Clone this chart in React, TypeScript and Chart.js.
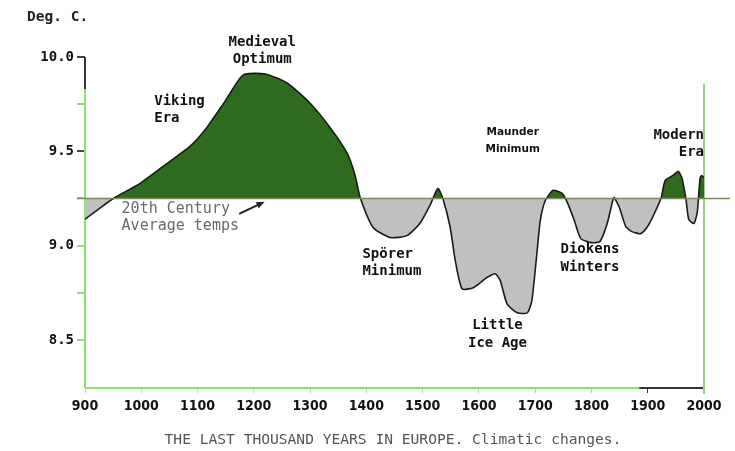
import React, { useEffect, useRef } from "react";
import { Chart, registerables } from "chart.js";

Chart.register(...registerables);

const years = [
  900, 927, 953, 998, 1051, 1087, 1117, 1149, 1181, 1220, 1259, 1300, 1335, 1366, 1380, 1389,
  1412, 1442, 1472, 1495, 1513, 1527, 1536, 1549, 1558, 1570, 1590, 1614, 1629, 1638, 1650,
  1668, 1686, 1694, 1703, 1709, 1718, 1732, 1748, 1757, 1769, 1781, 1799, 1815, 1828, 1837,
  1840, 1849, 1861, 1872, 1888, 1902, 1915, 1924, 1931, 1945, 1954, 1961, 1968, 1973, 1982,
  1988, 1993, 1996, 2000,
];
const temps = [
  9.14, 9.2, 9.255, 9.33, 9.447, 9.527, 9.628, 9.766, 9.904, 9.91, 9.862, 9.755, 9.628, 9.489, 9.372, 9.255,
  9.096, 9.043, 9.053, 9.117, 9.213, 9.303, 9.25, 9.096, 8.92, 8.771, 8.777, 8.83, 8.851, 8.814, 8.691,
  8.644, 8.644, 8.707, 8.957, 9.133, 9.239, 9.293, 9.277, 9.229, 9.138, 9.037, 9.016, 9.021, 9.117, 9.229,
  9.255, 9.207, 9.101, 9.074, 9.064, 9.112, 9.191, 9.255, 9.346, 9.372, 9.394, 9.356, 9.245, 9.138, 9.117,
  9.176, 9.356, 9.372, 9.36,
];
const baselineTemp = 9.25;
const yTickValues = [8.5, 8.75, 9.0, 9.25, 9.5, 9.75, 10.0];
const xTickValues = [900, 1000, 1100, 1200, 1300, 1400, 1500, 1600, 1700, 1800, 1900, 2000];

const yAxisTitle = "Deg. C.";
const chartTitle = "THE LAST THOUSAND YEARS IN EUROPE. Climatic changes.";

type Note = { lines: string[]; x: number; y: number; align: CanvasTextAlign; font: string; color: string };
const BOLD = "bold 14px 'DejaVu Sans Mono'";
const notes: Note[] = [
  { lines: ["Medieval", "Optimum"], x: 1215, y: 10.08, align: "center", font: BOLD, color: "#111" },
  { lines: ["Viking", "Era"], x: 1023, y: 9.765, align: "left", font: BOLD, color: "#111" },
  { lines: ["Spörer", "Minimum"], x: 1393, y: 8.955, align: "left", font: BOLD, color: "#111" },
  { lines: ["Little", "Ice Age"], x: 1633, y: 8.575, align: "center", font: BOLD, color: "#111" },
  { lines: ["Maunder", "Minimum"], x: 1660, y: 9.6, align: "center", font: "bold 10.5px 'DejaVu Sans'", color: "#111" },
  { lines: ["Diokens", "Winters"], x: 1745, y: 8.98, align: "left", font: BOLD, color: "#111" },
  { lines: ["Modern", "Era"], x: 2000, y: 9.585, align: "right", font: BOLD, color: "#111" },
  { lines: ["20th Century", "Average temps"], x: 965, y: 9.195, align: "left", font: "15px 'DejaVu Sans Mono'", color: "#6a6a6a" },
];

const AXIS_GREEN = "#8fe070";

const decorPlugin = {
  id: "decor",
  beforeDatasetsDraw(chart: any) {
    const { ctx, chartArea, scales } = chart;
    const xs = scales.x;
    const ys = scales.y;
    ctx.save();
    ctx.lineWidth = 2;
    const y975 = ys.getPixelForValue(9.83);
    ctx.strokeStyle = "#333";
    ctx.beginPath();
    ctx.moveTo(chartArea.left, chartArea.top);
    ctx.lineTo(chartArea.left, y975);
    ctx.stroke();
    ctx.strokeStyle = AXIS_GREEN;
    ctx.beginPath();
    ctx.moveTo(chartArea.left, y975);
    ctx.lineTo(chartArea.left, chartArea.bottom);
    ctx.stroke();
    const x1880 = xs.getPixelForValue(1885);
    ctx.strokeStyle = AXIS_GREEN;
    ctx.beginPath();
    ctx.moveTo(chartArea.left, chartArea.bottom);
    ctx.lineTo(x1880, chartArea.bottom);
    ctx.stroke();
    ctx.strokeStyle = "#333";
    ctx.beginPath();
    ctx.moveTo(x1880, chartArea.bottom);
    ctx.lineTo(chartArea.right, chartArea.bottom);
    ctx.stroke();
    ctx.strokeStyle = "#9ccf8a";
    ctx.beginPath();
    ctx.moveTo(chartArea.right, ys.getPixelForValue(9.86));
    ctx.lineTo(chartArea.right, chartArea.bottom + 6);
    ctx.stroke();
    ctx.restore();
  },
  afterDatasetsDraw(chart: any) {
    const { ctx, chartArea, scales } = chart;
    const xs = scales.x;
    const ys = scales.y;
    ctx.save();
    const yb = ys.getPixelForValue(baselineTemp);
    ctx.strokeStyle = "#7b8a5a";
    ctx.lineWidth = 1.5;
    ctx.beginPath();
    ctx.moveTo(chartArea.left - 8, yb);
    ctx.lineTo(chart.width - 5, yb);
    ctx.stroke();

    ctx.textBaseline = "middle";
    for (const n of notes) {
      ctx.font = n.font;
      ctx.fillStyle = n.color;
      ctx.textAlign = n.align;
      const px = xs.getPixelForValue(n.x);
      const py = ys.getPixelForValue(n.y);
      const lh = n.font.includes("10.5px") ? 17 : 17.5;
      n.lines.forEach((l, i) => ctx.fillText(l, px, py + i * lh));
    }
    const ax0 = xs.getPixelForValue(1174);
    const ay0 = ys.getPixelForValue(9.168);
    const ax1 = xs.getPixelForValue(1216);
    const ay1 = ys.getPixelForValue(9.228);
    ctx.strokeStyle = "#222";
    ctx.fillStyle = "#222";
    ctx.lineWidth = 2;
    ctx.beginPath();
    ctx.moveTo(ax0, ay0);
    ctx.lineTo(ax1, ay1);
    ctx.stroke();
    const ang = Math.atan2(ay1 - ay0, ax1 - ax0);
    ctx.beginPath();
    ctx.moveTo(ax1 + 2 * Math.cos(ang), ay1 + 2 * Math.sin(ang));
    ctx.lineTo(ax1 - 7 * Math.cos(ang - 0.5), ay1 - 7 * Math.sin(ang - 0.5));
    ctx.lineTo(ax1 - 7 * Math.cos(ang + 0.5), ay1 - 7 * Math.sin(ang + 0.5));
    ctx.closePath();
    ctx.fill();

    ctx.font = "bold 14.5px 'DejaVu Sans Mono'";
    ctx.fillStyle = "#222";
    ctx.textAlign = "left";
    ctx.fillText(yAxisTitle, 27, 17);
    ctx.font = "14.6px 'DejaVu Sans Mono'";
    ctx.fillStyle = "#555";
    ctx.textAlign = "center";
    ctx.fillText(chartTitle, 393, 440);
    ctx.restore();
  },
};

export default function App() {
  const ref = useRef<HTMLCanvasElement | null>(null);
  useEffect(() => {
    document.body.style.margin = "0";
    const canvas = ref.current!;
    const chart = new Chart(canvas, {
      type: "line",
      data: {
        datasets: [
          {
            data: years.map((x, i) => ({ x, y: temps[i] })),
            borderColor: "#1a1a1a",
            borderWidth: 1.6,
            pointRadius: 0,
            tension: 0.2,
            fill: { target: { value: baselineTemp }, above: "#2e6b1f", below: "#c0c0c0" },
          },
        ],
      },
      options: {
        animation: false,
        responsive: false,
        layout: { padding: { left: 0, top: 57, right: 31, bottom: 0 } },
        plugins: { legend: { display: false }, tooltip: { enabled: false }, title: { display: false } },
        scales: {
          x: {
            type: "linear",
            min: 900,
            max: 2000,
            border: { display: false },
            grid: {
              display: true,
              drawOnChartArea: false,
              drawTicks: true,
              tickLength: 5,
              color: (c: any) => (c.tick && c.tick.value >= 1900 ? "#333" : "#b8dca8"),
            },
            afterBuildTicks: (s: any) => {
              s.ticks = xTickValues.map((v) => ({ value: v }));
            },
            afterFit: (s: any) => {
              s.height = 63;
            },
            ticks: {
              padding: 5,
              maxRotation: 0,
              autoSkip: false,
              color: "#111",
              font: { family: "'DejaVu Sans Condensed'", weight: "bold", size: 14 },
              callback: (v: any) => String(v),
            },
          },
          y: {
            min: 8.245,
            max: 10.0,
            border: { display: false },
            grid: {
              display: true,
              drawOnChartArea: false,
              drawTicks: true,
              tickLength: 8,
              lineWidth: 2,
              color: (c: any) => (c.tick && c.tick.value >= 9.5 && Number.isInteger(c.tick.value * 2) ? "#444" : AXIS_GREEN),
            },
            afterBuildTicks: (s: any) => {
              s.ticks = yTickValues.map((v) => ({ value: v }));
            },
            afterFit: (s: any) => {
              s.width = 85;
            },
            ticks: {
              padding: 3,
              autoSkip: false,
              color: "#111",
              font: { family: "'DejaVu Sans Mono'", weight: "bold", size: 14 },
              callback: (v: any) => (Number.isInteger(Number(v) * 2) ? Number(v).toFixed(1) : ""),
            },
          },
        },
      },
      plugins: [decorPlugin],
    });
    return () => chart.destroy();
  }, []);
  return <canvas ref={ref} width={735} height={451} style={{ display: "block" }} />;
}
